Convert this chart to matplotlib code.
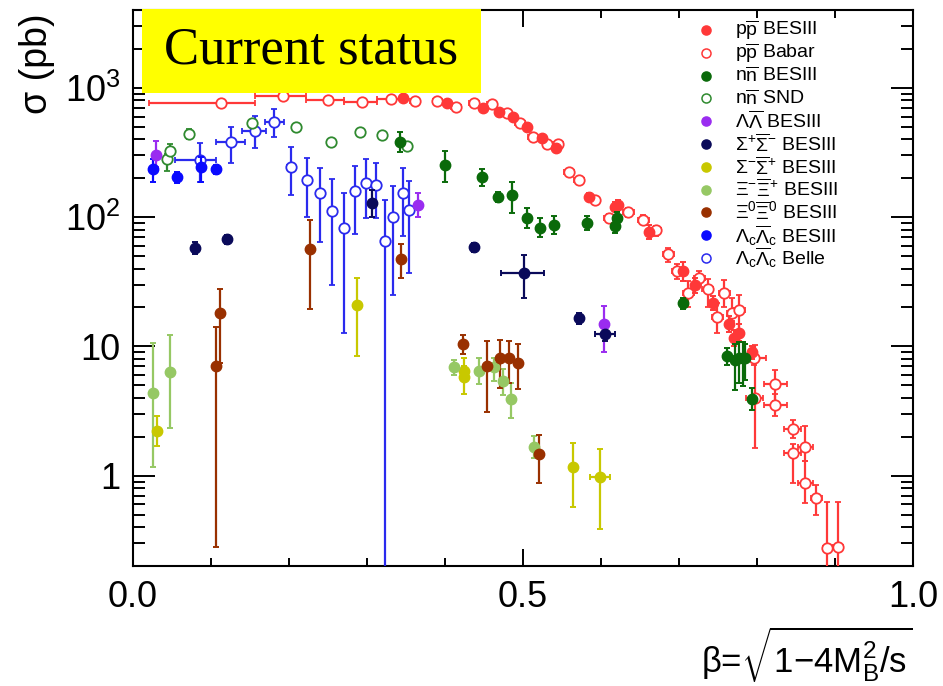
import numpy as np
import matplotlib
matplotlib.use("Agg")
import matplotlib.pyplot as plt
from matplotlib.patches import Rectangle
from matplotlib.ticker import FixedLocator, FixedFormatter, MultipleLocator, LogLocator, NullFormatter

plt.rcParams['font.family'] = ['Liberation Sans', 'DejaVu Sans']
plt.rcParams['mathtext.fontset'] = 'custom'
plt.rcParams['mathtext.rm'] = 'Liberation Sans'
plt.rcParams['mathtext.it'] = 'Liberation Sans:italic'
plt.rcParams['mathtext.bf'] = 'Liberation Sans:bold'

# ---- data: beta, sigma (pb), lower / upper error bounds ----
# p pbar BESIII
pp_bes_beta = [0.346, 0.402, 0.449, 0.469, 0.487, 0.505, 0.524, 0.542, 0.584, 0.618, 0.622,
               0.662, 0.705, 0.721, 0.743, 0.764, 0.770, 0.777, 0.794]
pp_bes_sig = [837, 765, 700, 650, 596, 499, 410, 343, 143, 120, 125, 77, 38, 30, 21.5, 15, 11.7, 12.8, 9.0]
pp_bes_lo = [800, 730, 670, 620, 565, 470, 385, 320, 133, 111, 115, 68, 32, 26, 19, 13, 10, 11, 8]
pp_bes_hi = [875, 800, 730, 680, 630, 530, 435, 365, 154, 130, 136, 87, 45, 34, 24.5, 17.3, 13.5, 14.8, 10]

# p pbar Babar
pp_bab_beta = [0.113, 0.192, 0.250, 0.293, 0.331, 0.361, 0.390, 0.414, 0.437, 0.460,
               0.479, 0.496, 0.513, 0.531, 0.545, 0.559, 0.572, 0.592, 0.610, 0.635,
               0.654, 0.670, 0.686, 0.698, 0.712, 0.726, 0.737, 0.749, 0.758, 0.768,
               0.777, 0.796, 0.797, 0.823, 0.823, 0.846, 0.846, 0.862, 0.862, 0.876,
               0.890, 0.904]
pp_bab_sig = [765, 867, 807, 778, 822, 793, 793, 713, 765, 751,
              640, 535, 417, 368, 368, 223, 194, 135, 98, 109,
              95, 79, 52, 38, 26, 34, 28, 17, 25.8, 18,
              19, 8.2, 4.0, 5.1, 3.55, 2.3, 1.5, 1.68, 0.87, 0.675,
              0.277, 0.28]
pp_bab_lo = [735, 835, 775, 748, 790, 762, 762, 685, 735, 720,
             612, 510, 397, 350, 350, 210, 183, 126, 91, 101,
             88, 72, 45, 33, 20, 30, 20, 12.6, 20, 15.8,
             13.3, 7.2, 1.65, 3.8, 2.9, 1.97, 0.87, 1.3, 0.61, 0.50,
             0.01, 0.01]
pp_bab_hi = [795, 900, 840, 810, 855, 825, 825, 742, 795, 782,
             668, 560, 437, 386, 386, 236, 205, 145, 106, 117,
             103, 86, 58, 43, 32, 38, 33, 21.6, 32.5, 23.5,
             25, 9.4, 10.2, 6.6, 4.3, 2.7, 1.77, 2.44, 1.3, 0.85,
             0.62, 0.63]
pp_bab_xlo = [0.021, 0.157, 0.222, 0.271, 0.313, 0.355, 0.384, 0.408, 0.431, 0.454,
              0.473, 0.490, 0.507, 0.525, 0.539, 0.553, 0.566, 0.586, 0.604, 0.628,
              0.647, 0.663, 0.679, 0.691, 0.705, 0.719, 0.730, 0.742, 0.751, 0.761,
              0.770, 0.780, 0.786, 0.809, 0.809, 0.834, 0.834, 0.852, 0.852, 0.869,
              0.884, 0.898]
pp_bab_xhi = [0.157, 0.222, 0.271, 0.313, 0.345, 0.367, 0.396, 0.420, 0.443, 0.466,
              0.485, 0.502, 0.519, 0.537, 0.551, 0.565, 0.578, 0.598, 0.616, 0.642,
              0.661, 0.677, 0.693, 0.705, 0.719, 0.733, 0.744, 0.756, 0.765, 0.775,
              0.784, 0.812, 0.808, 0.839, 0.839, 0.856, 0.856, 0.872, 0.872, 0.883,
              0.896, 0.910]

# n nbar BESIII
nn_bes_beta = [0.342, 0.400, 0.447, 0.468, 0.486, 0.505, 0.522, 0.540, 0.582, 0.618, 0.621,
               0.705, 0.762, 0.772, 0.777, 0.782, 0.785, 0.793]
nn_bes_sig = [381, 253, 204, 143, 148, 98, 82, 87, 90, 85, 98, 21.5, 8.4, 7.8, 8.2, 8.1, 8.1, 3.9]
nn_bes_lo = [319, 186, 174, 130, 107, 82, 70, 74, 80, 76, 88, 19.5, 7.2, 4.6, 5.2, 4.9, 5.5, 3.2]
nn_bes_hi = [454, 325, 235, 157, 186, 117, 98, 102, 102, 95, 110, 23.5, 9.8, 10.5, 10.8, 10.8, 10.5, 4.8]

# n nbar SND
nn_snd_beta = [0.043, 0.048, 0.072, 0.152, 0.209, 0.254, 0.291, 0.319, 0.351]
nn_snd_sig = [282, 325, 440, 535, 499, 381, 456, 433, 355]
nn_snd_lo = [226, 292, 402, 510, 475, 362, 434, 412, 338]
nn_snd_hi = [307, 368, 480, 560, 523, 400, 478, 454, 372]

# Lambda Lambdabar BESIII
ll_beta = [0.030, 0.366, 0.604]
ll_sig = [302, 124, 14.8]
ll_lo = [245, 101, 9.1]
ll_hi = [385, 154, 20.4]

# Sigma+ Sigmabar- BESIII
spsm_beta = [0.080, 0.120, 0.307, 0.437, 0.501, 0.572, 0.605]
spsm_sig = [57.5, 67.5, 128, 58.5, 36.8, 16.5, 12.4]
spsm_lo = [52, 62, 100, 54, 23.5, 15, 11]
spsm_hi = [64, 73, 162, 63, 50.9, 18, 14]
spsm_xlo = [0.080, 0.120, 0.307, 0.437, 0.472, 0.572, 0.592]
spsm_xhi = [0.080, 0.120, 0.307, 0.437, 0.527, 0.572, 0.618]

# Sigma- Sigmabar+ BESIII
smsp_beta = [0.031, 0.287, 0.424, 0.424, 0.564, 0.599]
smsp_sig = [2.23, 20.8, 6.4, 5.75, 1.17, 0.98]
smsp_lo = [1.7, 8.4, 5.5, 4.25, 0.575, 0.39]
smsp_hi = [2.9, 33.6, 8.2, 7.0, 1.8, 1.62]
smsp_xlo = [0.031, 0.287, 0.424, 0.424, 0.564, 0.586]
smsp_xhi = [0.031, 0.287, 0.424, 0.424, 0.564, 0.612]

# Xi- Xibar+ BESIII
ximxp_beta = [0.026, 0.048, 0.411, 0.443, 0.463, 0.474, 0.484, 0.514]
ximxp_sig = [4.32, 6.3, 6.87, 6.5, 6.87, 5.35, 3.95, 1.68]
ximxp_lo = [1.17, 2.35, 6.0, 5.1, 5.4, 4.2, 2.8, 1.38]
ximxp_hi = [10.6, 12.2, 7.9, 8.2, 8.1, 6.7, 5.2, 2.04]

# Xi0 Xibar0 BESIII
xi0_beta = [0.106, 0.112, 0.227, 0.344, 0.423, 0.454, 0.471, 0.482, 0.493, 0.521]
xi0_sig = [7.1, 18, 56.5, 47.3, 10.5, 7.1, 8.2, 8.2, 7.5, 1.48]
xi0_lo = [0.28, 7.5, 19.3, 33.5, 8.7, 3.1, 4.8, 5.2, 4.7, 0.88]
xi0_hi = [14, 28, 95, 62, 12.2, 11.1, 11.3, 11.1, 10.4, 2.08]

# Lambda_c Lambdabar_c BESIII
lc_bes_beta = [0.025, 0.056, 0.087, 0.107]
lc_bes_sig = [235, 204, 244, 235]
lc_bes_lo = [186, 185, 186, 215]
lc_bes_hi = [280, 225, 290, 255]

# Lambda_c Lambdabar_c Belle
lc_bel_beta = [0.086, 0.126, 0.157, 0.181, 0.202, 0.223, 0.240, 0.255, 0.271, 0.285,
               0.299, 0.311, 0.323, 0.333, 0.346, 0.354]
lc_bel_sig = [276, 381, 464, 545, 244, 194, 153, 111, 82, 159, 184, 177, 65, 100, 153, 113]
lc_bel_lo = [186, 262, 342, 418, 148, 100, 64, 30, 12.8, 74, 98, 98, 0.01, 24.8, 72, 37]
lc_bel_hi = [375, 499, 606, 686, 349, 287, 240, 197, 153, 247, 280, 262, 135, 174, 240, 190]
lc_bel_xlo = [0.054, 0.107, 0.140, 0.169, 0.198, 0.219, 0.236, 0.251, 0.267, 0.281,
              0.295, 0.307, 0.319, 0.329, 0.342, 0.350]
lc_bel_xhi = [0.107, 0.143, 0.170, 0.193, 0.206, 0.227, 0.244, 0.259, 0.275, 0.289,
              0.303, 0.315, 0.327, 0.337, 0.350, 0.358]

legend_labels = [r'$\mathrm{p\overline{p}}$ BESIII', r'$\mathrm{p\overline{p}}$ Babar',
                 r'$\mathrm{n\overline{n}}$ BESIII', r'$\mathrm{n\overline{n}}$ SND',
                 r'$\mathrm{\Lambda\overline{\Lambda}}$ BESIII',
                 r'$\mathrm{\Sigma^{+}\overline{\Sigma}^{-}}$ BESIII',
                 r'$\mathrm{\Sigma^{-}\overline{\Sigma}^{+}}$ BESIII',
                 r'$\mathrm{\Xi^{-}\overline{\Xi}^{+}}$ BESIII',
                 r'$\mathrm{\Xi^{0}\overline{\Xi}^{0}}$ BESIII',
                 r'$\mathrm{\Lambda_{c}\overline{\Lambda}_{c}}$ BESIII',
                 r'$\mathrm{\Lambda_{c}\overline{\Lambda}_{c}}$ Belle']


def yerr(sig, lo, hi):
    s = np.array(sig, float)
    return [s - np.array(lo, float), np.array(hi, float) - s]


def xerr(beta, lo, hi):
    b = np.array(beta, float)
    return [b - np.array(lo, float), np.array(hi, float) - b]


fig = plt.figure(figsize=(9.43, 6.86), dpi=100)
ax = fig.add_axes([0.14104, 0.17493, 0.82715, 0.81050])

RED = '#ff3838'
DGREEN = '#0a6a0a'
SNDGREEN = '#2f8a2f'
PURPLE = '#9a2cf0'
NAVY = '#0a0a5a'
YEL = '#c8c800'
LGREEN = '#96c864'
BROWN = '#993000'
BLUE = '#0a0aff'
BELLE = '#2a2aee'

ms = 7.5
eb = dict(capsize=2.2, elinewidth=1.6, capthick=1.4, linestyle='none')

# open symbols
ax.errorbar(lc_bel_beta, lc_bel_sig, yerr=yerr(lc_bel_sig, lc_bel_lo, lc_bel_hi),
            xerr=xerr(lc_bel_beta, lc_bel_xlo, lc_bel_xhi), fmt='o', color=BELLE,
            mfc='white', mec=BELLE, mew=1.3, ms=ms, zorder=3, **eb)
ax.errorbar(pp_bab_beta, pp_bab_sig, yerr=yerr(pp_bab_sig, pp_bab_lo, pp_bab_hi),
            xerr=xerr(pp_bab_beta, pp_bab_xlo, pp_bab_xhi), fmt='o', color=RED,
            mfc='white', mec=RED, mew=1.3, ms=ms, zorder=3, **eb)
ax.errorbar(nn_snd_beta, nn_snd_sig, yerr=yerr(nn_snd_sig, nn_snd_lo, nn_snd_hi), fmt='o',
            color=SNDGREEN, mfc='white', mec=SNDGREEN, mew=1.3, ms=ms, zorder=3, **eb)

# filled symbols
ax.errorbar(pp_bes_beta, pp_bes_sig, yerr=yerr(pp_bes_sig, pp_bes_lo, pp_bes_hi), fmt='o',
            color=RED, ms=ms, zorder=4, **eb)
ax.errorbar(nn_bes_beta, nn_bes_sig, yerr=yerr(nn_bes_sig, nn_bes_lo, nn_bes_hi), fmt='o',
            color=DGREEN, ms=ms, zorder=5, **eb)
ax.errorbar(ll_beta, ll_sig, yerr=yerr(ll_sig, ll_lo, ll_hi), fmt='o',
            color=PURPLE, ms=ms, zorder=5, **eb)
ax.errorbar(spsm_beta, spsm_sig, yerr=yerr(spsm_sig, spsm_lo, spsm_hi),
            xerr=xerr(spsm_beta, spsm_xlo, spsm_xhi), fmt='o', color=NAVY, ms=ms, zorder=5, **eb)
ax.errorbar(smsp_beta, smsp_sig, yerr=yerr(smsp_sig, smsp_lo, smsp_hi),
            xerr=xerr(smsp_beta, smsp_xlo, smsp_xhi), fmt='o', color=YEL, ms=ms, zorder=5, **eb)
ax.errorbar(ximxp_beta, ximxp_sig, yerr=yerr(ximxp_sig, ximxp_lo, ximxp_hi), fmt='o',
            color=LGREEN, ms=ms, zorder=5, **eb)
ax.errorbar(xi0_beta, xi0_sig, yerr=yerr(xi0_sig, xi0_lo, xi0_hi), fmt='o',
            color=BROWN, ms=ms, zorder=5, **eb)
ax.errorbar(lc_bes_beta, lc_bes_sig, yerr=yerr(lc_bes_sig, lc_bes_lo, lc_bes_hi), fmt='o',
            color=BLUE, ms=ms, zorder=5, **eb)

# axes
ax.set_yscale('log')
ax.set_xlim(0.0, 1.0)
ax.set_ylim(0.2, 4000)
ax.xaxis.set_major_locator(FixedLocator([0.0, 0.5, 1.0]))
ax.xaxis.set_major_formatter(FixedFormatter(['0.0', '0.5', '1.0']))
ax.xaxis.set_minor_locator(MultipleLocator(0.1))
ax.yaxis.set_major_locator(FixedLocator([1, 10, 100, 1000]))
ax.yaxis.set_major_formatter(FixedFormatter(['1', '10', r'$10^{2}$', r'$10^{3}$']))
ax.yaxis.set_minor_locator(LogLocator(base=10, subs=np.arange(2, 10)))
ax.yaxis.set_minor_formatter(NullFormatter())
ax.tick_params(axis='both', which='both', direction='in', top=True, right=True,
               width=1.4, labelsize=26)
ax.tick_params(axis='y', which='major', length=16, pad=9)
ax.tick_params(axis='y', which='minor', length=8.5)
ax.tick_params(axis='x', which='major', length=12, pad=10)
ax.tick_params(axis='x', which='minor', length=6)
for sp in ax.spines.values():
    sp.set_linewidth(1.5)

fig.text(37 / 943, 1 - 64 / 686, 'σ (pb)', rotation=90, ha='center', va='center',
         fontsize=27)
fig.text(913 / 943, 1 - 655 / 686, 'β=' + r'$\sqrt{\mathrm{1{-}4M_{B}^{2}/s}}$',
         ha='right', va='center', fontsize=25)

# legend (no frame, top right)
leg_colors = [RED, RED, DGREEN, SNDGREEN, PURPLE, NAVY, YEL, LGREEN, BROWN, BLUE, BELLE]
leg_open = [False, True, False, True, False, False, False, False, False, False, True]
for i, (lab, c, op) in enumerate(zip(legend_labels, leg_colors, leg_open)):
    yy = (566 - (30 + 22.8 * i)) / 556
    ax.plot([0.735], [yy], 'o', transform=ax.transAxes, ms=6.5,
            mfc='white' if op else c, mec=c, mew=1.1, clip_on=False, zorder=6)
    ax.text(0.772, yy, lab, transform=ax.transAxes, fontsize=14, va='center', ha='left',
            zorder=6)

# "Current status" box
fig.add_artist(Rectangle((142 / 943, 1 - 93 / 686), 339 / 943, 84 / 686,
                         transform=fig.transFigure, facecolor='#ffff00', edgecolor='none',
                         zorder=10))
fig.text(311.5 / 943, 1 - 51 / 686, 'Current status', fontsize=38, ha='center', va='center',
         family='Liberation Serif', zorder=11)

fig.savefig('out.png', dpi=100)
